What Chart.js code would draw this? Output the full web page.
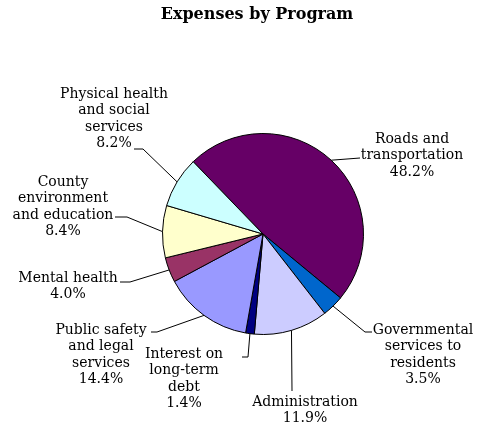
<!DOCTYPE html>
<html>
<head>
<meta charset="utf-8">
<script src="https://cdn.jsdelivr.net/npm/chart.js@4.4.0/dist/chart.umd.min.js"></script>
<style>
  html, body { margin: 0; padding: 0; background: #fff; }
  #wrap { width: 479px; height: 425px; }
</style>
</head>
<body>
<div id="wrap"><canvas id="chart" width="479" height="425"></canvas></div>
<script>
// chart data
var programs = ['Roads and transportation', 'Governmental services to residents', 'Administration',
  'Interest on long-term debt', 'Public safety and legal services', 'Mental health',
  'County environment and education', 'Physical health and social services'];
var shares = [48.2, 3.5, 11.9, 1.4, 14.4, 4.0, 8.4, 8.2];
var labelLines = [
  ['Roads and', 'transportation'],
  ['Governmental', 'services to', 'residents'],
  ['Administration'],
  ['Interest on', 'long-term', 'debt'],
  ['Public safety', 'and legal', 'services'],
  ['Mental health'],
  ['County', 'environment', 'and education'],
  ['Physical health', 'and social', 'services']
];
var sliceColors = ['#660066', '#0066CC', '#CCCCFF', '#000080', '#9999FF', '#993366', '#FFFFCC', '#CCFFFF'];

// where each label sits (text centre x, first line y) and the leader path after the slice edge
var labelSpots = [
  { x: 412, y: 139, path: [[360, 158]] },
  { x: 423, y: 330, path: [[365, 332], [372, 332]] },
  { x: 305, y: 402, path: [[292, 391]] },
  { x: 184, y: 354, path: [[248, 357], [242, 357]] },
  { x: 101, y: 330, path: [[157, 332], [151, 332]] },
  { x: 68, y: 278, path: [[130, 282], [120, 282]] },
  { x: 63, y: 182, path: [[127, 217], [115, 217]] },
  { x: 114, y: 94, path: [[143, 149], [134, 149]] }
];

var font = '14px "DejaVu Serif"';
var lineGap = 16.6;

var labelPlugin = {
  id: 'pieLabels',
  afterDraw: function(chart) {
    var ctx = chart.ctx;
    ctx.save();
    // title
    ctx.fillStyle = '#000';
    ctx.font = 'bold 16px "DejaVu Serif"';
    ctx.textAlign = 'center';
    ctx.textBaseline = 'middle';
    ctx.fillText('Expenses by Program', 257, 15);

    var arcs = chart.getDatasetMeta(0).data;
    ctx.font = font;
    arcs.forEach(function(arc, i) {
      var mid = (arc.startAngle + arc.endAngle) / 2;
      var sx = arc.x + Math.cos(mid) * arc.outerRadius;
      var sy = arc.y + Math.sin(mid) * arc.outerRadius;
      var spot = labelSpots[i];
      ctx.strokeStyle = '#000';
      ctx.lineWidth = 1;
      ctx.beginPath();
      ctx.moveTo(sx, sy);
      spot.path.forEach(function(p) { ctx.lineTo(p[0], p[1]); });
      ctx.stroke();

      var lines = labelLines[i].concat([shares[i].toFixed(1) + '%']);
      lines.forEach(function(t, k) {
        ctx.fillText(t, spot.x, spot.y + k * lineGap);
      });
    });
    ctx.restore();
  }
};

new Chart(document.getElementById('chart').getContext('2d'), {
  type: 'pie',
  data: {
    labels: programs,
    datasets: [{
      data: shares,
      backgroundColor: sliceColors,
      borderColor: '#000',
      borderWidth: 1
    }]
  },
  options: {
    responsive: false,
    animation: false,
    rotation: -44,
    layout: { padding: { left: 162, right: 115, top: 133, bottom: 90 } },
    plugins: {
      legend: { display: false },
      title: { display: false },
      tooltip: { enabled: false }
    }
  },
  plugins: [labelPlugin]
});
</script>
</body>
</html>
